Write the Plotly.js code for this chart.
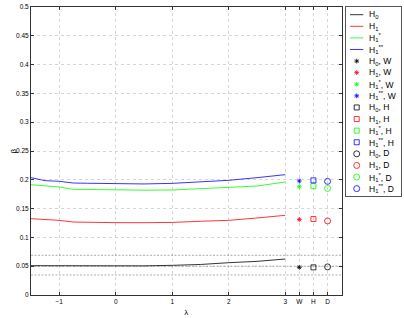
<!DOCTYPE html>
<html>
<head>
<meta charset="utf-8">
<script src="https://cdn.plot.ly/plotly-3.0.1.min.js"></script>
<style>html,body{margin:0;padding:0;background:#fff;}#chart{width:404px;height:318px;}</style>
</head>
<body>
<div id="chart"></div>
<script>
// ---- data ----
var lambdaVals = [-1.5, -1.25, -1, -0.75, -0.5, 0, 0.5, 1, 1.5, 2, 2.5, 3];
var betaH0   = [0.0509, 0.0508, 0.0507, 0.0505, 0.0504, 0.0503, 0.0506, 0.0515, 0.0530, 0.0561, 0.0584, 0.0625];
var betaH1   = [0.1325, 0.1310, 0.1296, 0.1267, 0.1262, 0.1256, 0.1255, 0.1260, 0.1280, 0.1296, 0.1337, 0.1383];
var betaH1s  = [0.1915, 0.1890, 0.1875, 0.1835, 0.1830, 0.1823, 0.1820, 0.1823, 0.1846, 0.1870, 0.1892, 0.1962];
var betaH1ss = [0.2037, 0.1985, 0.1974, 0.1944, 0.1940, 0.1933, 0.1928, 0.1938, 0.1962, 0.1991, 0.2037, 0.2089];

var testPos   = [3.25, 3.5, 3.75];           // W, H, D
var testNames = ['W', 'H', 'D'];
var testW = [0.048, 0.131, 0.188, 0.198];    // H0, H1, H1*, H1**
var testH = [0.048, 0.132, 0.189, 0.199];
var testD = [0.0488, 0.1285, 0.185, 0.1973];

var refLevels = [0.0689, 0.05, 0.0347];

var xTickVals = [-1, 0, 1, 2, 3, 3.25, 3.5, 3.75];
var xTickText = ['\u22121', '0', '1', '2', '3', 'W', 'H', 'D'];
var yTickVals = [0, 0.05, 0.1, 0.15, 0.2, 0.25, 0.3, 0.35, 0.4, 0.45, 0.5];
var yTickText = ['0', '0.05', '0.1', '0.15', '0.2', '0.25', '0.3', '0.35', '0.4', '0.45', '0.5'];

var hypNames = ['H<sub>0</sub>', 'H<sub>1</sub>', 'H<sub>1</sub><sup>*</sup>', 'H<sub>1</sub><sup>**</sup>'];
var colors = ['#000000', '#ff0000', '#00ff00', '#0000ff'];

// ---- build ----
var FONT = 'Liberation Sans, Arial, Helvetica, sans-serif';
var traces = [];
var lineSeries = [betaH0, betaH1, betaH1s, betaH1ss];

refLevels.forEach(function (v) {
  traces.push({x: [-1.5, 4], y: [v, v], mode: 'lines', showlegend: false, hoverinfo: 'skip',
    line: {color: '#9c94aa', width: 0.8, dash: '2px,1.5px'}});
});
lineSeries.forEach(function (s, i) {
  traces.push({x: lambdaVals, y: s, mode: 'lines', showlegend: false,
    line: {color: colors[i], width: 0.8}});
});
var testSets = [testW, testH, testD];
var symbols = ['asterisk-open', 'square-open', 'circle-open'];
var sizes = [4, 5, 6];
testSets.forEach(function (set, t) {
  for (var i = 0; i < 4; i++) {
    traces.push({x: [testPos[t]], y: [set[i]], mode: 'markers', showlegend: false,
      marker: {symbol: symbols[t], size: sizes[t], color: colors[i], line: {color: colors[i], width: 0.8}}});
  }
});

// ---- legend drawn on an overlay axis ----
var rowY = function (k) { return 7.7 + 11.6 * k; };
var annotations = [];
var k = 0;
for (var i = 0; i < 4; i++) {
  traces.push({x: [4, 17.3], y: [rowY(k), rowY(k)], xaxis: 'x2', yaxis: 'y2', mode: 'lines',
    showlegend: false, hoverinfo: 'skip', line: {color: colors[i], width: 0.8}});
  annotations.push({x: 21, y: rowY(k), text: hypNames[i]});
  k++;
}
for (var t = 0; t < 3; t++) {
  for (var i = 0; i < 4; i++) {
    traces.push({x: [10.7], y: [rowY(k)], xaxis: 'x2', yaxis: 'y2', mode: 'markers',
      showlegend: false, hoverinfo: 'skip',
      marker: {symbol: symbols[t], size: sizes[t], color: colors[i], line: {color: colors[i], width: 0.8}}});
    annotations.push({x: 21, y: rowY(k), text: hypNames[i] + ', ' + testNames[t]});
    k++;
  }
}
annotations = annotations.map(function (a) {
  return {x: a.x, y: a.y, text: a.text, xref: 'x2', yref: 'y2', xanchor: 'left', yanchor: 'middle',
    showarrow: false, font: {family: FONT, size: 8.5, color: '#000000'}};
});
// y-axis label (MATLAB-style, rotated)
annotations.push({x: -0.05, y: 0.5, xref: 'paper', yref: 'paper', text: '\u03b2', textangle: -90,
  showarrow: false, xanchor: 'center', yanchor: 'middle', font: {family: FONT, size: 8, color: '#000000'}});

var layout = {
  width: 404, height: 318,
  margin: {l: 31, r: 3, t: 7, b: 23},
  paper_bgcolor: '#fff', plot_bgcolor: '#fff',
  font: {family: FONT, size: 6.5, color: '#000'},
  showlegend: false,
  annotations: annotations,
  xaxis: {
    domain: [0, 0.8397], range: [-1.5, 4], tickmode: 'array', tickvals: xTickVals, ticktext: xTickText,
    ticks: 'inside', ticklen: 3, tickcolor: '#333', showline: true, linecolor: '#333', linewidth: 1,
    mirror: 'ticks', showgrid: true, gridcolor: '#c4c4c4', griddash: 'dot', gridwidth: 0.7, zeroline: false,
    tickfont: {size: 6.5}, title: {text: '\u03bb', font: {size: 8}, standoff: 5}
  },
  yaxis: {
    domain: [0, 1], range: [0, 0.5], tickmode: 'array', tickvals: yTickVals, ticktext: yTickText,
    ticks: 'inside', ticklen: 3, tickcolor: '#333', showline: true, linecolor: '#333', linewidth: 1,
    mirror: 'ticks', showgrid: true, gridcolor: '#c4c4c4', griddash: 'dot', gridwidth: 0.7, zeroline: false,
    tickfont: {size: 6.5}
  },
  xaxis2: {domain: [0.8514, 1.0], range: [0, 55], anchor: 'y2', showline: true, mirror: true,
    linecolor: '#555', linewidth: 1, showgrid: false, zeroline: false, showticklabels: false, ticks: ''},
  yaxis2: {domain: [0.344, 1.0], range: [189, 0], anchor: 'x2', showline: true, mirror: true,
    linecolor: '#555', linewidth: 1, showgrid: false, zeroline: false, showticklabels: false, ticks: ''}
};

Plotly.newPlot('chart', traces, layout, {displayModeBar: false, staticPlot: true});
</script>
</body>
</html>
